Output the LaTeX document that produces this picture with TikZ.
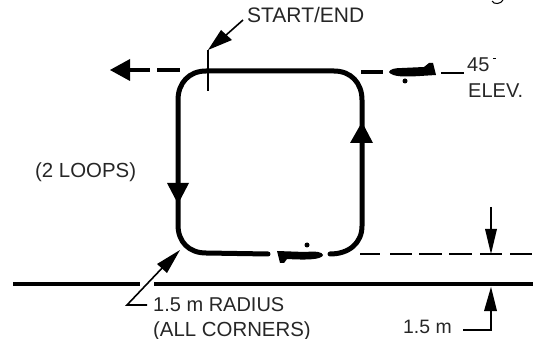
\documentclass[tikz,border=0pt]{standalone}
\usepackage{fontspec}
\setmainfont{Liberation Sans}
\begin{document}
\begin{tikzpicture}[x=1pt,y=-1pt,
  track/.style={line width=5pt,line cap=round,line join=round},
  fdash/.style={line width=3.8pt},
  gdash/.style={line width=2.2pt},
  ground/.style={line width=4.6pt},
  thin leader/.style={line width=1.6pt},
  solidhead/.style={fill=black,draw=none},
  lab/.style={inner sep=0pt,anchor=base west,font=\fontsize{20}{20}\selectfont,text=black!85}]
\useasboundingbox (0,0) rectangle (533,339);
% named points
\coordinate (gl1) at (13,284); \coordinate (gl2) at (140,284);
\coordinate (gr1) at (154,284); \coordinate (gr2) at (533,284);
% loop
\draw[track] (268,254) -- (206,253) .. controls (189,253) and (178,242) .. (178,225)
  -- (178,100) .. controls (178,83) and (189,71) .. (206,71)
  -- (334,71) .. controls (351,71) and (362,83) .. (362,100)
  -- (362,226) .. controls (362,243) and (349,254) .. (330,254);
% flight-direction arrows on the loop
\fill[solidhead] (362,122) -- (350,143) -- (373,143) -- cycle;
\fill[solidhead] (178,204) -- (167,183) -- (189,183) -- cycle;
% 45 deg dashes and left arrow
\draw[fdash] (361,72) -- (383,72);
\draw[fdash,line width=2.6pt] (441,73) -- (464,73);
\draw[fdash] (157,70) -- (180,70);
\draw[fdash] (128,70) -- (150,70);
\fill[solidhead] (110,70) -- (130,59) -- (130,81) -- cycle;
% planes
\fill (389,72) .. controls (390,69) and (395,68) .. (402,68) -- (424,67) -- (429,63) -- (433,63) -- (436,75)
  -- (420,76) .. controls (405,77) and (392,77) .. (389,72) -- cycle;
\fill (405,81) circle (2.5);
\fill (323,255) .. controls (322,252) and (317,251) .. (305,252) -- (277,251) -- (280,263) -- (284,263) -- (287,259)
  .. controls (305,260) and (322,260) .. (323,255) -- cycle;
\fill (307,245) circle (2.5);
% bottom dashed reference line
\foreach \a/\b in {360/380,390/412,419/442,449/472,480/502,510/532}
  \draw[gdash] (\a,254) -- (\b,254);
% ground
\draw[ground] (gl1) -- (gl2);
\draw[ground] (gr1) -- (gr2);
% start/end marker
\draw[line width=1.1pt] (208,50) -- (208,91);
\draw[thin leader] (243,20) -- (225,36);
\fill[solidhead] (208,50) -- (221,30) -- (232,40) -- cycle;
% radius leader
\draw[thin leader] (147,305) -- (127,305) -- (165,265);
\fill[solidhead] (180,250) -- (157,264) -- (167,273) -- cycle;
% height dimension
\draw[thin leader] (491,207) -- (491,232);
\fill[solidhead] (491,254) -- (485,229) -- (497,229) -- cycle;
\draw[thin leader] (463,330) -- (491,330) -- (491,308);
\fill[solidhead] (491,287) -- (484,311) -- (497,311) -- cycle;
% labels
\node[lab,font=\fontsize{21}{21}\selectfont] (startend) at (247,23) {START/END};
\node[lab] (forty) at (467,72) {45};
\draw[line width=.8pt] (493,58) -- (496,58);
\node[lab] (elev) at (468,98) {ELEV.};
\node[lab,font=\fontsize{20.4}{20}\selectfont] (loops) at (35,178) {(2 LOOPS)};
\node[lab] (radius) at (153,311) {1.5 m RADIUS};
\node[lab,font=\fontsize{20.4}{20}\selectfont] (corners) at (153,336) {(ALL CORNERS)};
\node[lab,font=\fontsize{19.4}{20}\selectfont] (height) at (403,333) {1.5 m};
% descender cut off at the top edge
\draw[line width=1pt] (492,1) .. controls (494,5) and (501,4) .. (503,0);
\end{tikzpicture}
\end{document}
